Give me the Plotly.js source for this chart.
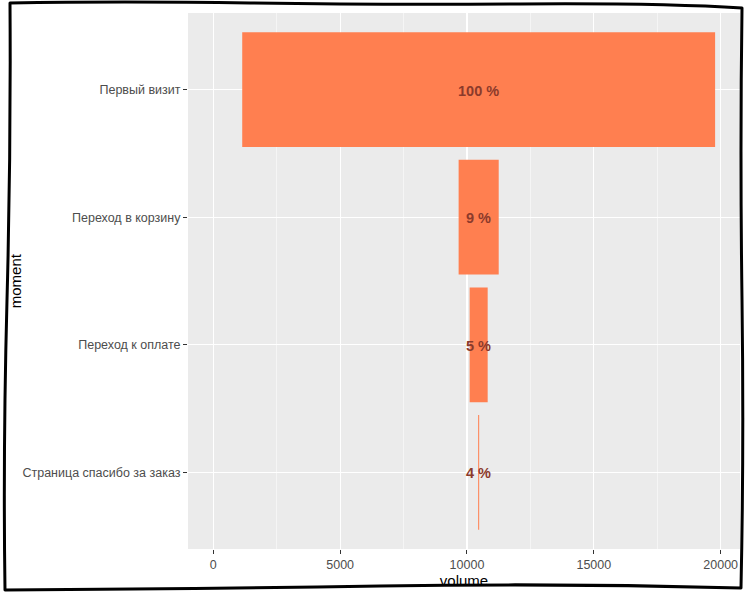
<!DOCTYPE html>
<html>
<head>
<meta charset="utf-8">
<script src="https://cdn.plot.ly/plotly-3.0.1.min.js"></script>
<style>
  html, body { margin: 0; padding: 0; background: #fff; }
  #wrap { position: relative; width: 748px; height: 595px; }
  #chart { width: 748px; height: 595px; }
  #frame { position: absolute; left: 0; top: 0; pointer-events: none; }
</style>
</head>
<body>
<div id="wrap">
  <div id="chart"></div>
  <svg id="frame" width="748" height="595">
    <path d="M10,3 Q120,1 250,3 T520,4 T742,8 Q740,150 742,300 T741,588 Q560,583 380,586 T5,590 Q3,450 7,300 T10,3 Z"
          fill="none" stroke="#000" stroke-width="3" stroke-linejoin="round"/>
  </svg>
</div>
<script>
// funnel steps, top to bottom
const moments = ["Первый визит", "Переход в корзину", "Переход к оплате", "Страница спасибо за заказ"];
const volumes = [18640, 1580, 710, 40];
const labels = ["100 %", "9 %", "5 %", "4 %"];
const funnelCenter = 10460;

const bases = volumes.map(v => funnelCenter - v / 2);

const bars = {
  type: "bar", orientation: "h",
  y: moments, x: volumes, base: bases,
  width: 0.9,
  marker: {color: "#FF7F50", line: {width: 0}},
  hoverinfo: "skip"
};

// percent labels in the middle of each step
const notes = moments.map((m, i) => ({
  x: funnelCenter, y: m, xref: "x", yref: "y",
  text: "<b>" + labels[i] + "</b>", showarrow: false,
  font: {family: "Liberation Sans, Arial, sans-serif", size: 14.5, color: "#8B3A2B"},
  yshift: -1
}));

// y axis title, placed by hand like ggplot does
notes.push({
  x: -0.313, y: 0.5, xref: "paper", yref: "paper",
  text: "moment", textangle: -90, showarrow: false,
  xanchor: "center", yanchor: "middle",
  font: {family: "Liberation Sans, Arial, sans-serif", size: 15, color: "#000"}
});

Plotly.newPlot("chart", [bars], {
  width: 748, height: 595,
  margin: {l: 188, r: 8, t: 13, b: 46},
  paper_bgcolor: "#fff",
  plot_bgcolor: "#EBEBEB",
  showlegend: false,
  font: {family: "Liberation Sans, Arial, sans-serif"},
  annotations: notes,
  xaxis: {
    range: [-997, 20761],
    tickvals: [0, 5000, 10000, 15000, 20000],
    ticktext: ["0", "5000", "10000", "15000", "20000"],
    ticks: "outside", ticklen: 4, tickcolor: "#333", tickwidth: 1,
    tickfont: {size: 12.5, color: "#4D4D4D"},
    showgrid: true, gridcolor: "#fff", gridwidth: 1.1,
    minor: {dtick: 2500, tick0: 0, showgrid: true, gridcolor: "#fff", gridwidth: 0.5},
    zeroline: false, showline: false,
    title: {text: "volume", font: {size: 15, color: "#000"}, standoff: 2}
  },
  yaxis: {
    type: "category",
    categoryorder: "array", categoryarray: moments,
    range: [3.6, -0.6],
    ticks: "outside", ticklen: 4, tickcolor: "#333", tickwidth: 1,
    tickfont: {size: 12.5, color: "#4D4D4D"},
    showgrid: true, gridcolor: "#fff", gridwidth: 1.1,
    zeroline: false, showline: false
  }
}, {displayModeBar: false, staticPlot: true});
</script>
</body>
</html>
